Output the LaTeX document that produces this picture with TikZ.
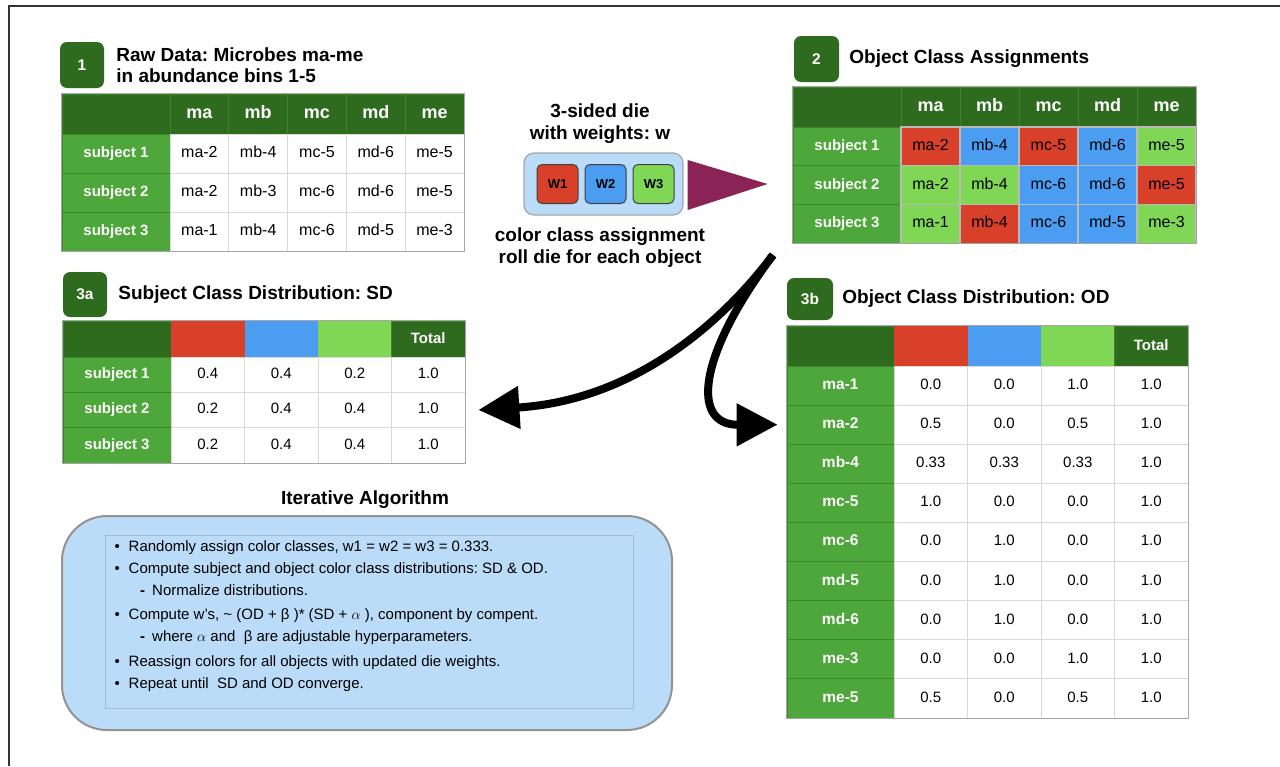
\documentclass[tikz,border=0pt]{standalone}
\usepackage{fontspec}
\setmainfont{Liberation Sans}
\usetikzlibrary{arrows.meta,positioning}
\frenchspacing

\definecolor{hdgreen}{HTML}{2E6B1F}
\definecolor{rowgreen}{HTML}{4EA73A}
\definecolor{cred}{HTML}{D9402A}
\definecolor{cblue}{HTML}{4A9DF0}
\definecolor{cgreen}{HTML}{80D756}
\definecolor{dieblue}{HTML}{BADCF8}
\definecolor{diepoint}{HTML}{8C2356}
\definecolor{gridgray}{HTML}{D9D9D9}

\newcommand{\fsz}[1]{\fontsize{#1}{#1}\selectfont}

\tikzset{
  badge/.style={fill=hdgreen, rounded corners=7pt, text=white, font=\fsz{15.5}\bfseries, inner sep=0pt},
  tabtitle/.style={font=\fontsize{19}{21}\selectfont\bfseries, align=left, inner sep=0pt, anchor=west},
  tcell/.style={inner sep=0pt, text height=11pt, text depth=3pt},
  hdcell/.style={tcell, fill=hdgreen, draw=rowgreen!45!hdgreen, line width=0.8pt, text=white, font=\fsz{18}\bfseries},
  rowcell/.style={tcell, fill=rowgreen, draw=hdgreen!55!rowgreen, line width=0.8pt, text=white, font=\fsz{15}\bfseries},
  datcell/.style={tcell, fill=white, draw=gridgray, line width=0.8pt, font=\fsz{16}},
  tabedge/.style={draw=gray!70, line width=1.2pt},
  diebox/.style={fill=dieblue, draw=gray!70, line width=1.2pt, rounded corners=10pt},
  face/.style={draw=black!75, line width=1pt, rounded corners=5pt, font=\fsz{13}\bfseries, minimum width=41pt, minimum height=39pt, inner sep=0pt},
  bigtext/.style={font=\fontsize{19}{22}\selectfont\bfseries, align=center},
  algbox/.style={fill=dieblue, draw=gray!85, line width=2pt, rounded corners=45pt},
  algline/.style={anchor=west, inner sep=0pt, font=\fsz{15}, text height=10pt, text depth=3pt},
  bigarrow/.style={line width=8pt, -{Triangle[length=41pt,width=41pt]}}
}

\begin{document}
\begin{tikzpicture}[x=1pt,y=-1pt]
\useasboundingbox (0,0) rectangle (1280,766);
\draw[line width=1.5pt, black!80] (1280,6) -- (9,6) -- (9,766);

% 1: raw data
\node[badge, minimum width=44pt, minimum height=46pt] (b1) at (82,65) {1};
\node[tabtitle, right=12pt of b1] (t1) {Raw Data: Microbes ma-me\\in abundance bins 1-5};
\node[hdcell, minimum width=108pt, minimum height=40pt] (ta-0-0) at (116,114) {};
\foreach \m [count=\c] in {ma,mb,mc,md,me}
  \node[hdcell, minimum width=58.8pt, minimum height=40pt] (ta-0-\c) at ({170+58.8*(\c-0.5)},114) {\m};
\foreach \r/\vals in {1/{ma-2,mb-4,mc-5,md-6,me-5},2/{ma-2,mb-3,mc-6,md-6,me-5},3/{ma-1,mb-4,mc-6,md-5,me-3}} {
  \node[rowcell, minimum width=108pt, minimum height=39pt] (ta-\r-0) at (116,{134+39*(\r-0.5)}) {subject \r};
  \foreach \v [count=\c] in \vals
    \node[datcell, minimum width=58.8pt, minimum height=39pt] (ta-\r-\c) at ({170+58.8*(\c-0.5)},{134+39*(\r-0.5)}) {\v};
}
\draw[tabedge] (ta-0-0.north west) rectangle (ta-3-5.south east);

% die
\node[bigtext] (dietop) at (600,124) {3-sided die\\with weights: w};
\node[diebox, minimum width=159pt, minimum height=62pt] (die) at (603.5,184) {};
\node[face, fill=cred] (w1) at (557.5,184) {W1};
\node[face, fill=cblue, right=6pt of w1] (w2) {W2};
\node[face, fill=cgreen, right=6pt of w2] (w3) {W3};
\fill[diepoint] ([xshift=4pt,yshift=24pt]die.east) -- ([xshift=4pt,yshift=-26pt]die.east) -- ([xshift=84pt]die.east) -- cycle;
\node[bigtext] (dienote) at (600,248) {color class assignment\\roll die for each object};

% 2: object class assignments
\node[badge, minimum width=45pt, minimum height=46pt] (b2) at (816.5,59) {2};
\node[tabtitle, right=10pt of b2] (t2) {Object Class Assignments};
\node[hdcell, minimum width=108pt, minimum height=40pt] (tb-0-0) at (847,107) {};
\foreach \m [count=\c] in {ma,mb,mc,md,me}
  \node[hdcell, minimum width=59pt, minimum height=40pt] (tb-0-\c) at ({901+59*(\c-0.5)},107) {\m};
\foreach \r/\vals in {1/{cred/ma-2,cblue/mb-4,cred/mc-5,cblue/md-6,cgreen/me-5},
                      2/{cgreen/ma-2,cgreen/mb-4,cblue/mc-6,cblue/md-6,cred/me-5},
                      3/{cgreen/ma-1,cred/mb-4,cblue/mc-6,cblue/md-5,cgreen/me-3}} {
  \node[rowcell, minimum width=108pt, minimum height=38.7pt] (tb-\r-0) at (847,{127+38.7*(\r-0.5)}) {subject \r};
  \foreach \f/\v [count=\c] in \vals
    \node[datcell, fill=\f, draw=gray!55, line width=1.2pt, minimum width=59pt, minimum height=38.7pt] (tb-\r-\c) at ({901+59*(\c-0.5)},{127+38.7*(\r-0.5)}) {\v};
}
\draw[tabedge] (tb-0-0.north west) rectangle (tb-3-5.south east);

% 3a: subject class distribution
\node[badge, minimum width=44pt, minimum height=45pt] (b3a) at (85,294.5) {3a};
\node[tabtitle, right=11pt of b3a] (t3a) {Subject Class Distribution: SD};
\node[hdcell, minimum width=108pt, minimum height=36pt] (tc-0-0) at (117,339) {};
\foreach \f [count=\c] in {cred,cblue,cgreen}
  \node[tcell, fill=\f, minimum width=73.5pt, minimum height=36pt] (tc-0-\c) at ({171+73.5*(\c-0.5)},339) {};
\node[hdcell, font=\fsz{15}\bfseries, minimum width=73.5pt, minimum height=36pt] (tc-0-4) at ({171+73.5*3.5},339) {Total};
\foreach \r/\vals in {1/{0.4,0.4,0.2,1.0},2/{0.2,0.4,0.4,1.0},3/{0.2,0.4,0.4,1.0}} {
  \node[rowcell, minimum width=108pt, minimum height=35.3pt] (tc-\r-0) at (117,{357+35.3*(\r-0.5)}) {subject \r};
  \foreach \v [count=\c] in \vals
    \node[datcell, font=\fsz{15}, minimum width=73.5pt, minimum height=35.3pt] (tc-\r-\c) at ({171+73.5*(\c-0.5)},{357+35.3*(\r-0.5)}) {\v};
}
\draw[tabedge] (tc-0-0.north west) rectangle (tc-3-4.south east);

% 3b: object class distribution
\node[badge, minimum width=46pt, minimum height=42pt] (b3b) at (810,299) {3b};
\node[tabtitle, right=9pt of b3b] (t3b) {Object Class Distribution: OD};
\node[hdcell, minimum width=107pt, minimum height=40pt] (td-0-0) at (840.5,346) {};
\foreach \f [count=\c] in {cred,cblue,cgreen}
  \node[tcell, fill=\f, minimum width=73.5pt, minimum height=40pt] (td-0-\c) at ({894+73.5*(\c-0.5)},346) {};
\node[hdcell, font=\fsz{15}\bfseries, minimum width=73.5pt, minimum height=40pt] (td-0-4) at ({894+73.5*3.5},346) {Total};
\foreach \m/\vals [count=\r] in {ma-1/{0.0,0.0,1.0,1.0},ma-2/{0.5,0.0,0.5,1.0},mb-4/{0.33,0.33,0.33,1.0},
                                 mc-5/{1.0,0.0,0.0,1.0},mc-6/{0.0,1.0,0.0,1.0},md-5/{0.0,1.0,0.0,1.0},
                                 md-6/{0.0,1.0,0.0,1.0},me-3/{0.0,0.0,1.0,1.0},me-5/{0.5,0.0,0.5,1.0}} {
  \node[rowcell, font=\fsz{15.5}\bfseries, minimum width=107pt, minimum height=39.1pt] (td-\r-0) at (840.5,{366+39.1*(\r-0.5)}) {\m};
  \foreach \v [count=\c] in \vals
    \node[datcell, font=\fsz{15}, minimum width=73.5pt, minimum height=39.1pt] (td-\r-\c) at ({894+73.5*(\c-0.5)},{366+39.1*(\r-0.5)}) {\v};
}
\draw[tabedge] (td-0-0.north west) rectangle (td-9-4.south east);

% arrows from the die roll to both distributions
\coordinate (fork) at (773,255);
\coordinate (sdin) at ([xshift=13pt]tc-2-4.east);
\coordinate (odin) at ([xshift=-9pt]td-2-0.west);
\draw[bigarrow] (fork) .. controls (728,315) and (640,400) .. (sdin);
\draw[bigarrow] (fork) .. controls (698,355) and (690,425) .. (odin);

% iterative algorithm
\node[font=\fsz{19}\bfseries] (algtitle) at (365,500) {Iterative Algorithm};
\node[algbox, minimum width=610pt, minimum height=214pt] (alg) at (367,623) {};
\node[draw=cblue!35!gray!60, line width=1pt, minimum width=528pt, minimum height=173pt] (algframe) at (369,621.5) {};
\node[algline] (alg1) at (114.5,548) {\makebox[14pt][l]{\textbullet}Randomly assign color classes, w1 = w2 = w3 = 0.333.};
\node[algline] (alg2) at (114.5,570) {\makebox[14pt][l]{\textbullet}Compute subject and object color class distributions: SD \& OD.};
\node[algline] (alg3) at (140,592) {\makebox[12pt][l]{\textbf{-}}Normalize distributions.};
\node[algline] (alg4) at (114.5,616) {\makebox[14pt][l]{\textbullet}Compute w’s, \textasciitilde{} (OD + β )* (SD + $\alpha$ ), component by compent.};
\node[algline] (alg5) at (140,638) {\makebox[12pt][l]{\textbf{-}}where $\alpha$ and \ β are adjustable hyperparameters.};
\node[algline] (alg6) at (114.5,663) {\makebox[14pt][l]{\textbullet}Reassign colors for all objects with updated die weights.};
\node[algline] (alg7) at (114.5,685) {\makebox[14pt][l]{\textbullet}Repeat until \ SD and OD converge.};
\end{tikzpicture}
\end{document}
